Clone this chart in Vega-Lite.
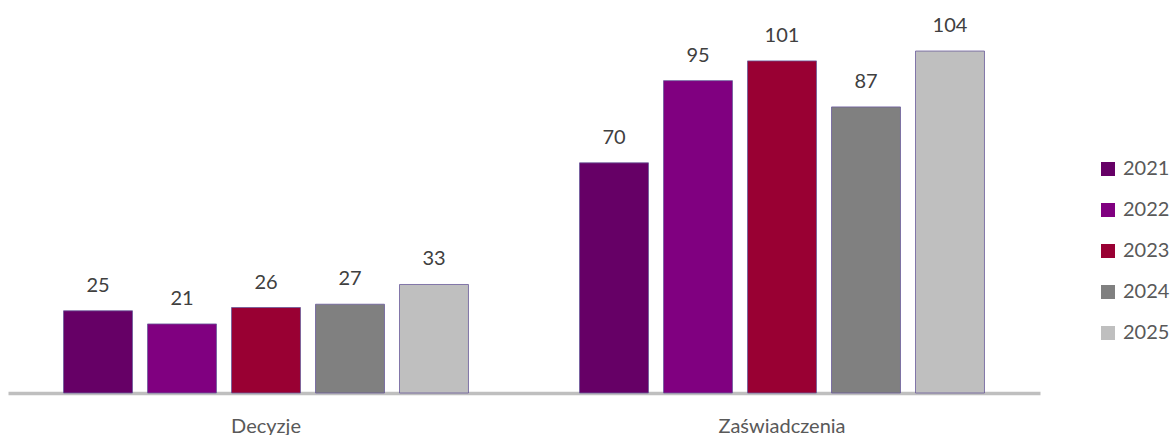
{
  "$schema": "https://vega.github.io/schema/vega-lite/v6.json",
  "width": 1032,
  "height": 388,
  "autosize": {"type": "none"},
  "padding": {"left": 8, "top": 5, "right": 136, "bottom": 42},
  "background": "#ffffff",
  "config": {"view": {"stroke": null}, "font": "Lato"},
  "data": {
    "values": [
      {"category": "Decyzje", "year": "2021", "value": 25},
      {"category": "Decyzje", "year": "2022", "value": 21},
      {"category": "Decyzje", "year": "2023", "value": 26},
      {"category": "Decyzje", "year": "2024", "value": 27},
      {"category": "Decyzje", "year": "2025", "value": 33},
      {"category": "Zaświadczenia", "year": "2021", "value": 70},
      {"category": "Zaświadczenia", "year": "2022", "value": 95},
      {"category": "Zaświadczenia", "year": "2023", "value": 101},
      {"category": "Zaświadczenia", "year": "2024", "value": 87},
      {"category": "Zaświadczenia", "year": "2025", "value": 104}
    ]
  },
  "encoding": {
    "x": {
      "field": "category",
      "type": "nominal",
      "sort": ["Decyzje", "Zaświadczenia"],
      "scale": {"paddingInner": 0, "paddingOuter": 0},
      "axis": {
        "title": null,
        "labelAngle": 0,
        "ticks": false,
        "domainColor": "#bfbfbf",
        "domainWidth": 3.5,
        "labelFontSize": 20,
        "labelColor": "#595959",
        "labelFont": "Lato",
        "labelPadding": 23
      }
    },
    "xOffset": {
      "field": "year",
      "type": "nominal",
      "scale": {"paddingInner": 0.179, "paddingOuter": 0.661}
    },
    "y": {
      "field": "value",
      "type": "quantitative",
      "scale": {"domain": [0, 118], "nice": false},
      "axis": null
    }
  },
  "layer": [
    {
      "mark": {"type": "bar", "stroke": "#6a5a9a", "strokeWidth": 0.8},
      "encoding": {
        "fill": {
          "field": "year",
          "type": "nominal",
          "scale": {
            "domain": ["2021", "2022", "2023", "2024", "2025"],
            "range": ["#660066", "#800080", "#990033", "#808080", "#bfbfbf"]
          },
          "legend": {
            "title": null,
            "orient": "none",
            "legendX": 1090,
            "legendY": 154,
            "symbolType": "square",
            "symbolSize": 196,
            "symbolStrokeWidth": 0,
            "labelFontSize": 20,
            "labelColor": "#595959",
            "labelFont": "Lato",
            "labelOffset": 5,
            "rowPadding": 21
          }
        }
      }
    },
    {
      "mark": {"type": "text", "dy": -19, "baseline": "alphabetic", "fontSize": 20, "color": "#404040", "font": "Lato"},
      "encoding": {"text": {"field": "value", "type": "quantitative"}}
    }
  ]
}
